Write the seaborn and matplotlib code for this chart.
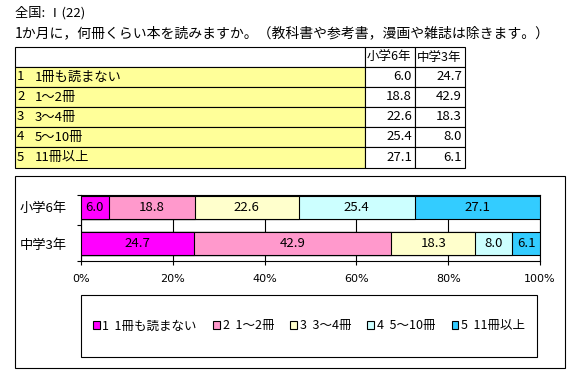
import matplotlib
matplotlib.use("Agg")
import matplotlib.pyplot as plt
from matplotlib.patches import Rectangle, Patch
import seaborn as sns
import pandas as pd

plt.rcParams['font.family'] = ['Noto Sans CJK JP', 'DejaVu Sans']

# ---- data ----
title1 = "全国: Ⅰ(22)"
title2 = "1か月に，何冊くらい本を読みますか。（教科書や参考書，漫画や雑誌は除きます。）"
groups = ["小学6年", "中学3年"]
categories = ["1　1冊も読まない", "2　1～2冊", "3　3～4冊", "4　5～10冊", "5　11冊以上"]
shogaku6 = [6.0, 18.8, 22.6, 25.4, 27.1]
chugaku3 = [24.7, 42.9, 18.3, 8.0, 6.1]
colors = ["#FF00FF", "#FF99CC", "#FFFFCC", "#CCFFFF", "#33CCFF"]
xticks = [0, 20, 40, 60, 80, 100]
xticklabels = ["0%", "20%", "40%", "60%", "80%", "100%"]

W, H = 581, 377
fig = plt.figure(figsize=(W / 100, H / 100), dpi=100)
fig.patch.set_facecolor("white")


def fx(x):
    return x / W


def fy(y):
    return 1 - y / H


LW = 0.8
FS = 9.5

# ---- titles ----
fig.text(fx(15), fy(13), title1, fontsize=FS, va="center", ha="left")
fig.text(fx(15), fy(33), title2, fontsize=10, va="center", ha="left")

# ---- table ----
col_x = [15, 365, 415, 465]
row_y = [47, 67, 87, 107, 127, 147, 168]
for r in range(len(row_y) - 1):
    for c in range(len(col_x) - 1):
        fc = "#FFFF99" if (r > 0 and c == 0) else "white"
        x0, x1 = col_x[c], col_x[c + 1]
        y0, y1 = row_y[r], row_y[r + 1]
        fig.add_artist(Rectangle((fx(x0), fy(y1)), fx(x1) - fx(x0), fy(y0) - fy(y1),
                                 transform=fig.transFigure, facecolor=fc,
                                 edgecolor="black", linewidth=LW))
fig.text(fx(367), fy(57.5), groups[0], fontsize=FS - 0.5, va="center", ha="left")
fig.text(fx(417), fy(57.5), groups[1], fontsize=FS - 0.5, va="center", ha="left")
for i, cat in enumerate(categories):
    yc = (row_y[i + 1] + row_y[i + 2]) / 2
    num, txt = cat.split("　")
    fig.text(fx(17), fy(yc), num, fontsize=FS, va="center", ha="left")
    fig.text(fx(35), fy(yc), txt, fontsize=FS, va="center", ha="left")
    fig.text(fx(412), fy(yc), f"{shogaku6[i]:.1f}", fontsize=FS, va="center", ha="right")
    fig.text(fx(462), fy(yc), f"{chugaku3[i]:.1f}", fontsize=FS, va="center", ha="right")

# ---- chart outer box ----
fig.add_artist(Rectangle((fx(15), fy(368)), fx(565) - fx(15), fy(176) - fy(368),
                         transform=fig.transFigure, facecolor="none",
                         edgecolor="black", linewidth=LW))

# ---- bar chart ----
ax_l, ax_r, ax_t, ax_b = 81, 540, 195, 261
ax = fig.add_axes([fx(ax_l), fy(ax_b), fx(ax_r) - fx(ax_l), fy(ax_t) - fy(ax_b)])

values = [shogaku6, chugaku3]
for i in reversed(range(len(categories))):
    cum = [sum(v[:i + 1]) for v in values]
    df = pd.DataFrame({"group": groups, "cum": cum})
    sns.barplot(data=df, x="cum", y="group", order=groups, orient="h",
                color=colors[i], saturation=1, edgecolor="black",
                linewidth=LW, width=0.64, ax=ax, zorder=3)

for g, v in enumerate(values):
    left = 0
    for i, val in enumerate(v):
        ax.text(left + val / 2, g, f"{val:.1f}", ha="center", va="center",
                fontsize=FS, zorder=5)
        left += val

ytop, ybot = -0.347, 1.486
ax.set_ylim(ybot, ytop)
ax.set_xlim(0, 100)
ax.set_xticks(xticks)
ax.set_xticklabels(xticklabels, fontsize=8, family="DejaVu Sans")
ax.set_yticks([0, 1])
ax.set_yticklabels(groups, fontsize=FS)
ax.set_yticks([ytop, 0.5, ybot], minor=True)
ax.tick_params(axis="y", which="major", length=0, pad=10)
ax.tick_params(axis="y", which="minor", length=3, width=LW, direction="out")
ax.tick_params(axis="x", which="major", length=3, width=LW, direction="out", pad=6)
ax.set_xlabel("")
ax.set_ylabel("")
ax.xaxis.grid(True, color="black", linewidth=LW)
ax.set_axisbelow(True)
for s in ax.spines.values():
    s.set_color("black")
    s.set_linewidth(LW)

# ---- legend box ----
fig.add_artist(Rectangle((fx(81), fy(357)), fx(537) - fx(81), fy(295) - fy(357),
                         transform=fig.transFigure, facecolor="white",
                         edgecolor="black", linewidth=LW))
handles = [Patch(facecolor=c, edgecolor="black", linewidth=LW) for c in colors]
leg_labels = [c.replace("　", "  ") for c in categories]
fig.legend(handles, leg_labels, loc="center", bbox_to_anchor=(fx(309), fy(326)),
           ncol=5, frameon=False, fontsize=FS - 0.5, handlelength=0.55,
           handleheight=0.55, handletextpad=0.2, columnspacing=1.3,
           borderaxespad=0, borderpad=0)

fig.savefig("out.png", dpi=100)
